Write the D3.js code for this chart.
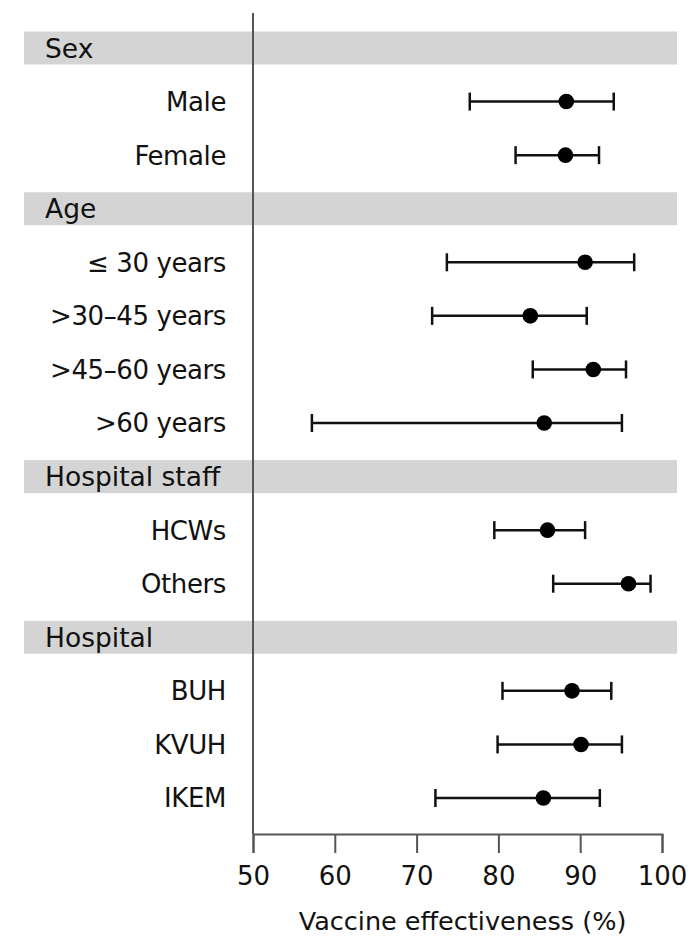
<!DOCTYPE html>
<html>
<head>
<meta charset="utf-8">
<script src="https://cdn.jsdelivr.net/npm/d3@7"></script>
<style>
  html, body { margin: 0; padding: 0; background: #fff; }
  svg { display: block; }
  text { font-family: "DejaVu Sans", sans-serif; fill: #111; }
</style>
</head>
<body>
<svg id="chart" width="699" height="951"></svg>
<script>
// ---- data ----
const rowLabels = ["Sex", "Male", "Female", "Age", "\u2264 30 years", ">30\u201345 years", ">45\u201360 years", ">60 years",
                   "Hospital staff", "HCWs", "Others", "Hospital", "BUH", "KVUH", "IKEM"];
const groupHeaders = ["Sex", "Age", "Hospital staff", "Hospital"];
const categories = ["Male", "Female", "\u2264 30 years", ">30\u201345 years", ">45\u201360 years", ">60 years",
                    "HCWs", "Others", "BUH", "KVUH", "IKEM"];
const estimate = [88.3, 88.2, 90.6, 83.9, 91.6, 85.6, 86.0, 95.9, 89.0, 90.1, 85.5];
const lower    = [76.5, 82.1, 73.7, 71.9, 84.2, 57.2, 79.5, 86.7, 80.5, 79.9, 72.3];
const upper    = [94.1, 92.3, 96.6, 90.8, 95.6, 95.1, 90.6, 98.6, 93.8, 95.1, 92.4];
const xTicks = [50, 60, 70, 80, 90, 100];
const xTitle = "Vaccine effectiveness (%)";

// ---- layout ----
const svg = d3.select("#chart");
const x = d3.scaleLinear().domain([50, 100]).range([253, 662]);
const y = d3.scalePoint().domain(rowLabels).range([48, 798]);
const axisY = 834;
const bandH = 33;

// group header bands
svg.append("g").selectAll("rect").data(groupHeaders).join("rect")
  .attr("x", 24).attr("width", 677 - 24)
  .attr("y", d => y(d) - bandH / 2).attr("height", bandH)
  .attr("fill", "#d4d4d4");

svg.append("g").selectAll("text").data(groupHeaders).join("text")
  .attr("x", 45).attr("y", d => y(d)).attr("dy", "0.36em")
  .attr("font-size", 26.5).text(d => d);

// category labels
svg.append("g").selectAll("text").data(categories).join("text")
  .attr("x", 226).attr("y", d => y(d)).attr("dy", "0.36em")
  .attr("text-anchor", "end").attr("font-size", 26).attr("letter-spacing", -0.4).text(d => d);

// vertical reference line at 50
svg.append("line")
  .attr("x1", x(50)).attr("x2", x(50)).attr("y1", 13).attr("y2", axisY)
  .attr("stroke", "#555").attr("stroke-width", 2);

// x axis
const axis = d3.axisBottom(x).tickValues(xTicks).tickSize(19).tickPadding(14).tickFormat(d3.format("d"));
const gx = svg.append("g").attr("transform", `translate(0,${axisY})`).call(axis);
gx.select(".domain").attr("stroke", "#555").attr("stroke-width", 2);
gx.selectAll(".tick line").attr("stroke", "#555").attr("stroke-width", 2);
gx.selectAll(".tick text").attr("font-size", 26).attr("font-family", "DejaVu Sans, sans-serif").attr("fill", "#111");

svg.append("text").attr("x", (x(50) + x(100)) / 2 + 5).attr("y", 930)
  .attr("text-anchor", "middle").attr("font-size", 25.5).text(xTitle);

// error bars
const rows = categories.map((c, i) => ({c, est: estimate[i], lo: lower[i], hi: upper[i]}));
const g = svg.append("g").attr("stroke", "#111").attr("stroke-width", 2.5);
g.selectAll("line.ci").data(rows).join("line").attr("class", "ci")
  .attr("x1", d => x(d.lo)).attr("x2", d => x(d.hi))
  .attr("y1", d => y(d.c)).attr("y2", d => y(d.c));
g.selectAll("line.capl").data(rows).join("line").attr("class", "capl")
  .attr("x1", d => x(d.lo)).attr("x2", d => x(d.lo))
  .attr("y1", d => y(d.c) - 9).attr("y2", d => y(d.c) + 9);
g.selectAll("line.caph").data(rows).join("line").attr("class", "caph")
  .attr("x1", d => x(d.hi)).attr("x2", d => x(d.hi))
  .attr("y1", d => y(d.c) - 9).attr("y2", d => y(d.c) + 9);
svg.append("g").selectAll("circle").data(rows).join("circle")
  .attr("cx", d => x(d.est)).attr("cy", d => y(d.c)).attr("r", 7.8)
  .attr("fill", "#000");
</script>
</body>
</html>
